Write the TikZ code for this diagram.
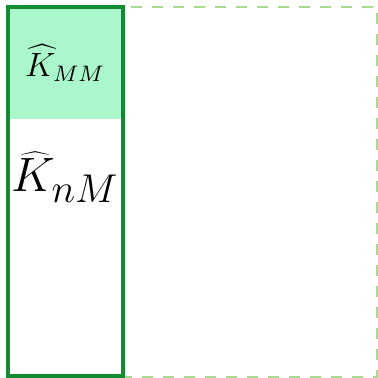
\documentclass[tikz,border=0pt]{standalone}
\usetikzlibrary{positioning}

\definecolor{blockgreen}{HTML}{118C30}
\definecolor{mintfill}{HTML}{A9F7CA}
\definecolor{paledash}{HTML}{A8DA90}

\begin{document}
\begin{tikzpicture}[
    x=0.5pt, y=-0.5pt,
    outline/.style={
        draw=paledash,
        line width=0.7pt,
        dash pattern=on 5.5pt off 5pt
    },
    column/.style={
        draw=blockgreen,
        line width=1.6pt
    },
    label/.style={
        inner sep=0pt
    }
]
\useasboundingbox (0,0) rectangle (378,378);

% Full matrix
\draw[outline] (8,7) rectangle (377,377);

% Sampled block
\fill[mintfill] (8,7) rectangle (123,119);
\draw[column] (8,7) rectangle (123,376);

% Labels
\node[label, font=\large] (kmm) at (65,63) {\scalebox{1.4}{$\widehat{K}_{MM}$}};
\node[label, font=\Huge] (knm) at (65,177) {\scalebox{0.97}{$\widehat{K}_{nM}$}};

\end{tikzpicture}
\end{document}
